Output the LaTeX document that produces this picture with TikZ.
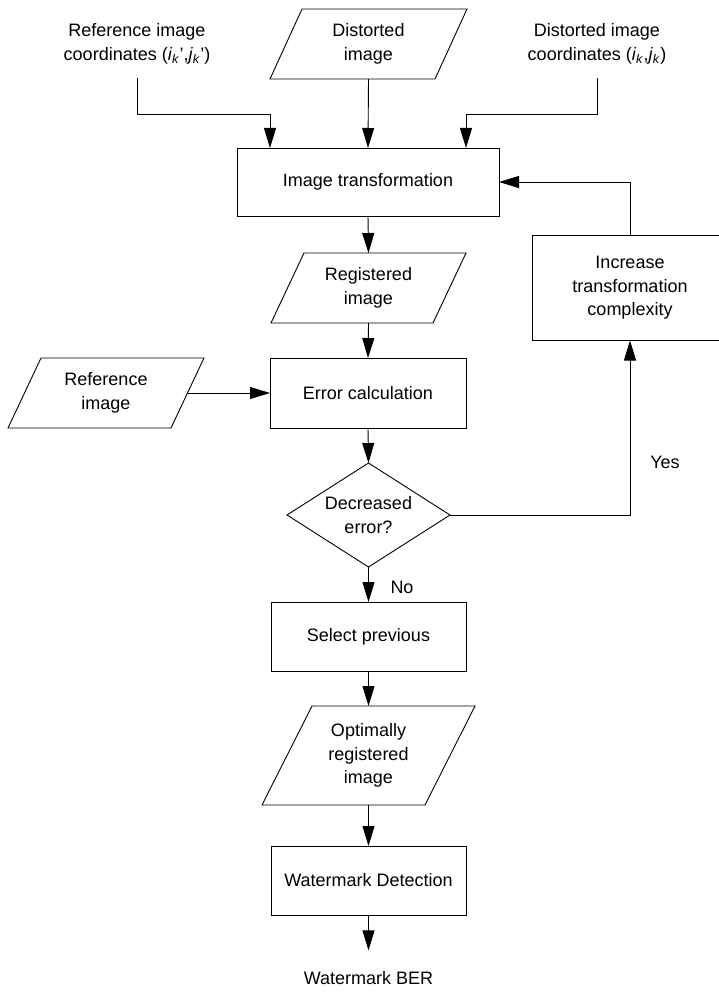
\documentclass[tikz,border=0pt]{standalone}
\usepackage{fontspec}
\setmainfont{Liberation Sans}
\usetikzlibrary{arrows.meta,shapes.geometric}
\tikzset{
  lbl/.style={font=\fontsize{18}{23.5}\selectfont, align=center, inner sep=0pt, outer sep=0pt},
  toplbl/.style={lbl, inner ysep=14pt},
  procbox/.style={lbl, draw, line width=0.9pt},
  iotext/.style={lbl},
  shapeline/.style={line width=0.9pt},
  decision/.style={lbl, draw, line width=0.9pt, diamond, aspect=1.57, inner sep=1pt,
                   minimum width=163pt, minimum height=104pt},
  flow/.style={line width=0.9pt, -{Triangle[length=20pt,width=12pt]}}
}
\newcommand\ioshape[7]{%
  \node[iotext, minimum width=#4pt, minimum height=#5pt] (#1) at (#2,#3) {#7};
  \draw[shapeline] ([xshift=#6pt]#1.north west) -- (#1.north east)
     -- ([xshift=-#6pt]#1.south east) -- (#1.south west) -- cycle;
}
\newcommand\idx[1]{\textit{#1}\textsubscript{\textit{k}}}
\begin{document}
\begin{tikzpicture}[x=1pt,y=-1pt]
\useasboundingbox (0,0) rectangle (719,992);
\fill[white] (0,0) rectangle (719,992);
\begin{scope}
\clip (0,0) rectangle (719,992);

% inputs
\ioshape{dist}{368.5}{44}{197}{70}{32}{Distorted\\image}
\node[toplbl] (refc) at (137,44) {Reference image\\coordinates (\idx{i}’,\idx{j}’)};
\node[toplbl] (distc) at (597,44) {Distorted image\\coordinates (\idx{i},\idx{j})};

\node[procbox, minimum width=262pt, minimum height=68pt] (imgt) at (368,182) {Image transformation};
\ioshape{reg}{368.5}{288}{195}{70}{33}{Registered\\image}
\node[procbox, minimum width=196pt, minimum height=70pt] (err) at (368,393) {Error calculation};
\ioshape{ref}{106}{393}{196}{70}{33}{Reference\\image}
\node[decision] (dec) at (368.5,515) {Decreased\\error?};
\node[procbox, minimum width=196pt, minimum height=105pt] (inc) at (630,288) {Increase\\transformation\\complexity};
\node[procbox, minimum width=195pt, minimum height=69pt] (sel) at (368.5,636.5) {Select previous};
\ioshape{opt}{368.5}{755.5}{213}{99}{50}{Optimally\\registered\\image}
\node[procbox, minimum width=195pt, minimum height=69pt] (wd) at (368.5,880.5) {Watermark Detection};
\node[lbl] (ber) at (368.5,978) {Watermark BER};
\node[lbl] (yes) at (665,462) {Yes};
\node[lbl] (no) at (402,587) {No};

% bends
\coordinate (rbend) at (270,114);
\coordinate (dbend) at (466,114);

% connectors
\draw[flow] (refc.south) |- (rbend) -- (rbend |- imgt.north);
\draw[flow] (distc.south) |- (dbend) -- (dbend |- imgt.north);
\draw[flow] (dist.south) -- (imgt.north);
\draw[flow] (imgt.south) -- (reg.north);
\draw[flow] (reg.south) -- (err.north);
\draw[flow] ([xshift=-16.5pt]ref.east) -- (err.west);
\draw[flow] (err.south) -- (dec.north);
\draw[flow] (dec.east) -| (inc.south);
\draw[flow] (inc.north) |- (imgt.east);
\draw[flow] (dec.south) -- (sel.north);
\draw[flow] (sel.south) -- (opt.north);
\draw[flow] (opt.south) -- (wd.north);
\draw[flow] (wd.south) -- ([yshift=21pt]ber.north);
\end{scope}
\end{tikzpicture}
\end{document}
